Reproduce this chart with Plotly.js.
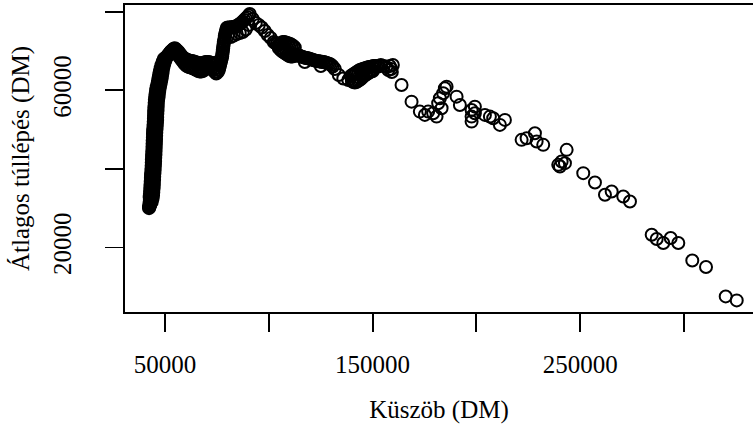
<!DOCTYPE html>
<html>
<head>
<meta charset="utf-8">
<script src="https://cdn.plot.ly/plotly-3.0.1.min.js"></script>
<style>html,body{margin:0;padding:0;background:#fff;overflow:hidden}#chart{width:753px;height:433px}</style>
</head>
<body>
<div id="chart"></div>
<script>
// Threshold (Küszöb, DM) and mean excess (Átlagos túllépés, DM)
// dense low-threshold band (outer points)
const bandX = [42300,42300,42900,42500,43600,42700,44000,42600,44250,42700,44350,42800,44450,42900,44550,43000,44650,43100,44750,43200,44800,43250,44900,43350,45000,43450,45050,43550,45150,43600,45250,43650,45300,43750,45400,43850,45450,43900,45500,43950,45550,44000,45600,44050,45700,44150,45750,44200,45800,44250,45900,44350,46000,44450,46100,44550,46200,44650,46250,44700,46300,44750,46400,44850,46450,44900,46500,45000,46600,45100,46800,45300,47000,45500,47200,45700,47400,46000,47700,46300,48000,46600,48300,46900,48500,47200,48800,47500,49000,47900,49300,48300,49700,48800,50200,49400,50800,51300,51900,52500,53200,53900,54700];
const bandY = [30000,30400,30800,31200,31600,32000,32400,32800,33200,33600,34000,34400,34800,35200,35600,36000,36400,36800,37200,37600,38000,38400,38800,39200,39600,40000,40400,40800,41200,41600,42000,42400,42800,43200,43600,44000,44400,44800,45200,45600,46000,46400,46800,47200,47600,48000,48400,48800,49200,49600,50000,50400,50800,51200,51600,52000,52400,52800,53200,53600,54000,54400,54800,55200,55600,56000,56400,56800,57200,57600,58000,58400,58800,59200,59600,60000,60400,60800,61200,61600,62000,62400,62800,63200,63600,64000,64400,64800,65200,65600,66000,66400,66800,67200,67600,68000,68400,68800,69200,69600,70000,70400,70700];
// dense low-threshold band (middle points)
const bandMidX = [42400,42600,42800,43000,43200,43320,43370,43420,43470,43520,43570,43620,43670,43720,43770,43820,43870,43920,43960,44010,44050,44100,44140,44190,44230,44280,44320,44360,44390,44430,44460,44500,44540,44570,44610,44640,44680,44700,44730,44760,44790,44820,44850,44880,44910,44940,44970,45000,45040,45080,45120,45160,45200,45240,45280,45320,45360,45400,45440,45470,45510,45550,45580,45620,45650,45690,45730,45760,45800,45860,45940,46020,46100,46180,46260,46370,46510,46650,46790,46930,47070,47210,47350,47490,47630,47790,47970,48150,48330,48510,48740,49020,49300,49580,49860,50290,50880,51470,52060,52650,53400,54200];
const bandMidY = [30200,30600,31000,31400,31800,32200,32600,33000,33400,33800,34200,34600,35000,35400,35800,36200,36600,37000,37400,37800,38200,38600,39000,39400,39800,40200,40600,41000,41400,41800,42200,42600,43000,43400,43800,44200,44600,45000,45400,45800,46200,46600,47000,47400,47800,48200,48600,49000,49400,49800,50200,50600,51000,51400,51800,52200,52600,53000,53400,53800,54200,54600,55000,55400,55800,56200,56600,57000,57400,57800,58200,58600,59000,59400,59800,60200,60600,61000,61400,61800,62200,62600,63000,63400,63800,64200,64600,65000,65400,65800,66200,66600,67000,67400,67800,68200,68600,69000,69400,69800,70200,70600];
// plateau, dip and rise to the maximum
const riseX = [55157,55880,56603,57326,58049,58772,59495,60218,60941,61664,62387,63110,63833,64556,65279,66002,66725,67448,68171,68894,69617,70340,71063,71786,72509,73232,73955,74678,75401,
  56603,57326,58049,58772,59495,60218,60941,61664,62387,63110,63833,64556,65279,66002,66725,67448,68171,68894,69617,70340,71063,71786,72509,73232,73955,74678,75401,
  75883,76124,76365,76606,76847,77088,77329,77570,77570,77811,77811,78052,78052,78293,78293,78534,78775,78775,79016,79257,79498,79739,
  80221,80944,81667,82390,83113,83836,84559,85282,86005,86728,87451,88174,88897,89620,90343,
  80221,81667,83113,84559,86005,87451,88897,90343];
const riseY = [70509,70128,69747,69238,68730,68348,68094,67840,67713,67586,67459,67459,67332,67205,67077,66950,66823,66823,66950,67077,67205,67205,67205,67077,66950,66823,66696,66569,67205,
  68730,68221,67713,67205,66696,66315,66061,65934,65806,65679,65552,65298,65171,64917,64790,64790,64917,65171,65552,65934,66061,65934,65552,65171,64663,64281,64663,
  65171,65679,66188,66696,67205,67713,68221,68730,69238,69747,70255,70763,71272,71780,72289,72797,73305,73814,74322,74831,75339,75847,
  75974,75974,75974,76102,76102,76229,76356,76610,76864,77118,77500,77881,78262,78644,79025,
  73814,73560,73941,74322,74576,74831,75466,76610];
// slow decline after the maximum
const midX = [90825,92271,93717,95163,96609,98055,99501,100947,102393,103116,
  103839,104562,105285,106008,106731,107454,108177,108900,109623,110346,111069,111792,112515,
  104803,105526,106249,106972,107695,108418,109141,109864,110587,111310,112033,112756,113479,
  114202,114925,115648,116371,117094,117817,118540,119263,119986,120709,121432,122155,122878,123601,124324,125047,125770,126493,127216,127939,128662,129385,130108,130831,
  117335,125047,
  131795,133723,135892,138302,
  139507,140230,140953,141676,142399,143122,143845,144568,145291,146014,146737,147460,148183,148906,149629,150352,151075,151798,
  139989,140712,141435,142158,142881,143604,144327,145050,145773,146496,147219,147942,148665,149388,150111,
  152762,153967,155413,156618,157582,158305,159028,159269,159751];
const midY = [79406,78135,77118,76610,75974,75085,74068,73305,72289,72034,
  71780,71526,71780,72034,72289,72289,72161,72034,71907,71780,71526,71272,70890,
  70763,70382,70001,69747,69492,69238,68984,68730,68603,68603,68730,68984,68857,
  68984,68730,68603,68476,68348,68221,68221,68094,67967,67840,67713,67586,67459,67459,67332,67332,67205,67205,67077,66950,66823,66696,66442,66061,
  67205,66188,
  65425,63900,63010,62629,
  63646,63900,64154,64408,64663,64917,65171,65298,65425,65552,65679,65806,65934,65934,66061,66188,66188,66188,
  62375,62121,61993,62121,62375,62629,62883,63264,63646,63900,64154,64408,64663,64790,64917,
  66061,66442,66188,65934,65171,66188,65425,64663,66442];
// sparse upper tail
const tailX = [163950,168770,172770,175180,176770,179180,180820,181590,182410,183230,184000,184820,185640,190460,192050,197690,197690,197690,199280,199280,204100,206510,208100,211330,213740,221790,224200,228200,229020,232200,239430,240250,241070,242660,243480,251480,257120,261940,265170,270760,273990,284450,286860,290040,293600,297270,304010,310620,320110,325420];
const tailY = [61360,57110,54570,53730,54570,54160,53300,56710,57980,55440,59250,60520,60930,58380,56270,55000,53300,52030,55840,54160,53730,53300,52890,51190,52460,47380,47810,49080,46950,46110,41020,40590,41860,41450,44840,38910,36520,33400,34240,32960,31690,23230,22140,21120,22390,21120,16700,15020,7540,6530];

const xTickVals = [50000,100000,150000,200000,250000,300000];
const xTickText = ['50000','','150000','','250000',''];
const yTickVals = [20000,40000,60000,80000];
const yTickText = ['20000','','60000',''];

const xs = bandX.concat(bandMidX, riseX, midX, tailX);
const ys = bandY.concat(bandMidY, riseY, midY, tailY);

const FONT = 'Liberation Serif, Times New Roman, serif';
const trace = {
  x: xs, y: ys, type: 'scatter', mode: 'markers',
  marker: {symbol: 'circle-open', size: 12, color: '#000', line: {width: 2, color: '#000'}},
  hoverinfo: 'skip'
};
const layout = {
  width: 753, height: 433,
  margin: {l: 125, r: 0, t: 5, b: 121},
  paper_bgcolor: '#fff', plot_bgcolor: '#fff',
  showlegend: false,
  font: {family: FONT, size: 25, color: '#000'},
  xaxis: {
    range: [30721, 333257], showgrid: false, zeroline: false,
    showline: true, mirror: true, linecolor: '#000', linewidth: 1.8,
    ticks: 'outside', ticklen: 18, tickwidth: 1.8, tickcolor: '#000',
    tickvals: xTickVals, ticktext: xTickText, tickangle: 0,
    ticklabelstandoff: 11,
    title: {text: 'Küszöb (DM)', font: {family: FONT, size: 25, color: '#000'}, standoff: 24}
  },
  yaxis: {
    range: [3576, 81703], showgrid: false, zeroline: false,
    showline: true, mirror: false, linecolor: '#000', linewidth: 1.8,
    ticks: 'outside', ticklen: 18, tickwidth: 1.8, tickcolor: '#000',
    tickvals: yTickVals, ticktext: yTickText, tickangle: -90,
    ticklabelstandoff: 24,
    title: {text: 'Átlagos túllépés (DM)', font: {family: FONT, size: 25, color: '#000'}, standoff: 12}
  }
};
Plotly.newPlot('chart', [trace], layout, {staticPlot: true, displayModeBar: false});
</script>
</body>
</html>
